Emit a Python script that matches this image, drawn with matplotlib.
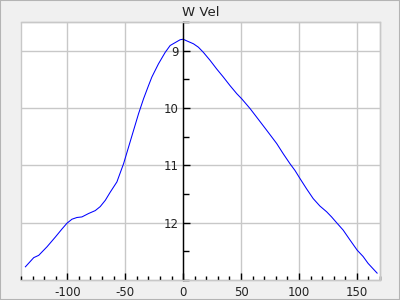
import matplotlib
matplotlib.use("Agg")
import matplotlib.pyplot as plt
from matplotlib.patches import Rectangle
from matplotlib.ticker import MultipleLocator

plt.rcParams["axes.unicode_minus"] = False

phase = [-136.2, -129, -124.7, -117.5, -110.3, -104.6, -100.3, -96, -91.7, -87.4,
         -81.6, -75.9, -71.6, -67.2, -63, -57.2, -51.4, -47.1, -42.8, -38.5,
         -34.2, -29.9, -27, -21.3, -15.5, -11.2, -6.9, -2.6, 0, 3.2,
         8.9, 13.2, 17.5, 23.3, 29, 34.7, 40.5, 46.3, 50.6, 57.8,
         63.5, 72.2, 80.8, 86.5, 92.2, 96.6, 100.9, 106.6, 112.3, 118.1,
         123.9, 128.2, 132.5, 138.2, 144, 150.3, 155.4, 159.7, 167.5]
mag = [12.77, 12.61, 12.57, 12.42, 12.25, 12.11, 12.01, 11.94, 11.91, 11.90,
       11.84, 11.79, 11.72, 11.61, 11.47, 11.29, 10.97, 10.68, 10.39, 10.10,
       9.84, 9.61, 9.46, 9.23, 9.03, 8.91, 8.86, 8.81, 8.80, 8.83,
       8.88, 8.94, 9.03, 9.17, 9.32, 9.46, 9.61, 9.75, 9.84, 10.01,
       10.16, 10.39, 10.62, 10.80, 10.97, 11.09, 11.23, 11.41, 11.58, 11.71,
       11.81, 11.90, 12.00, 12.13, 12.30, 12.48, 12.59, 12.71, 12.88]
xticks = [-100, -50, 0, 50, 100, 150]
yticks = [9, 10, 11, 12]
title = "W Vel"

fig = plt.figure(figsize=(4, 3), dpi=100, facecolor="#f0f0f0")
fig.patches.append(Rectangle((0, 0), 1, 1, transform=fig.transFigure, fill=False,
                             edgecolor="#b4b4b4", linewidth=1.5))
ax = fig.add_axes([0.0525, 0.0667, 0.8975, 0.86])
ax.plot(phase, mag, color="#0000ff", linewidth=0.75)
ax.set_xlim(-140, 170)
ax.set_ylim(13, 8.5)
ax.set_xticks(xticks)
ax.set_yticks(yticks)
ax.xaxis.set_minor_locator(MultipleLocator(10))
ax.yaxis.set_minor_locator(MultipleLocator(0.5))
ax.grid(True, which="major", color="#c8c8c8", linewidth=1.0)
ax.set_axisbelow(True)

for s in ["top", "right", "bottom"]:
    ax.spines[s].set_color("#c8c8c8")
    ax.spines[s].set_linewidth(1.0)
ax.spines["left"].set_position(("data", 0))
ax.spines["left"].set_color("black")
ax.spines["left"].set_linewidth(1.0)
ax.add_patch(Rectangle((0, 0), 1, 1, transform=ax.transAxes, fill=False,
                       edgecolor="#c8c8c8", linewidth=1.0, clip_on=False, zorder=0.5))

ax.tick_params(axis="x", which="major", direction="in", length=5, width=1,
               color="black", labelsize=8.5, pad=4, labelcolor="#222222")
ax.tick_params(axis="x", which="minor", direction="in", length=3, width=1, color="black")
ax.tick_params(axis="y", which="major", direction="in", length=5, width=1,
               color="black", labelsize=8.5, pad=3, labelcolor="#222222")
ax.tick_params(axis="y", which="minor", direction="in", length=4, width=1, color="black")

ax.set_title(title, fontsize=9.5, pad=4, color="#222222")
fig.savefig("out.png", dpi=100, facecolor=fig.get_facecolor())
